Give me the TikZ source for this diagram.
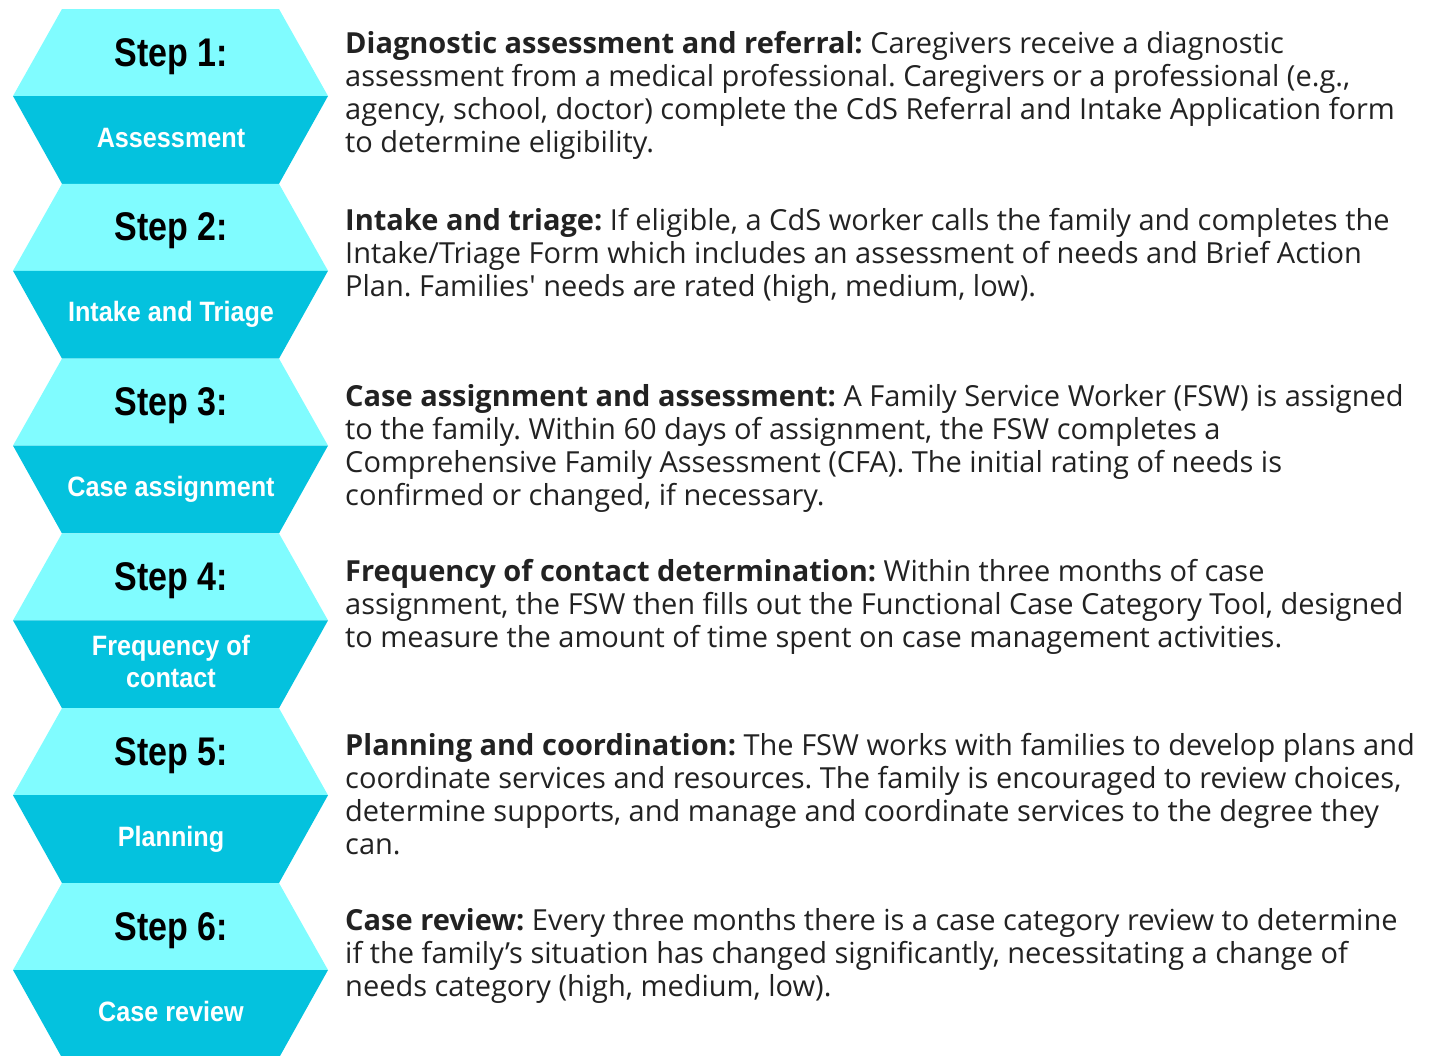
\documentclass[tikz,border=0pt]{standalone}
\usepackage{fontspec}
\setmainfont{Open Sans}[Ligatures=TeXOff]
\newfontfamily\stepfont[FakeStretch=0.85]{Liberation Sans}
\newfontfamily\namefont[FakeStretch=0.9]{Liberation Sans}
\definecolor{steplight}{HTML}{80FCFF}
\definecolor{stepdark}{HTML}{04C2DE}
\definecolor{bodytext}{HTML}{222222}
\frenchspacing
\begin{document}
\begin{tikzpicture}[x=1pt, y=-1pt, line join=round,
  steptitle/.style={font=\stepfont\bfseries\fontsize{40}{40}\selectfont, text=black, anchor=base, inner sep=0pt},
  stepname/.style={font=\namefont\bfseries\fontsize{28}{32}\selectfont, text=white, align=center, anchor=base, inner sep=0pt},
  desc/.style={font=\fontsize{29}{33}\selectfont, text=bodytext, align=left, anchor=base west, inner sep=0pt}]
\useasboundingbox (0,0) rectangle (1432,1055);
% the six steps, light half on top and dark half below
\foreach \i/\name/\off in {1/Assessment/138, 2/Intake and Triage/138, 3/Case assignment/138,
  4/{Frequency of\\contact}/153.6, 5/Planning/138, 6/Case review/138}{
  \pgfmathsetmacro\t{9+174.8*(\i-1)}
  \fill[steplight] (62,\t) -- (279,\t) -- (328,\t+87) -- (13,\t+87) -- cycle;
  \fill[stepdark] (13,\t+87) -- (328,\t+87) -- (279,\t+174.8) -- (62,\t+174.8) -- cycle;
  \node[steptitle] (s\i) at (171,\t+57) {Step \i:};
  \node[stepname] (n\i) at (171,\t+\off) {\name};
}
% descriptions, placed at the baseline of their last line
\node[desc] (d1) at (345,152) {\textbf{Diagnostic assessment and referral:} Caregivers receive a diagnostic\\
  assessment from a medical professional. Caregivers or a professional (e.g.,\\
  agency, school, doctor) complete the CdS Referral and Intake Application form\\
  to determine eligibility.};
\node[desc] (d2) at (345,296) {\textbf{Intake and triage:} If eligible, a CdS worker calls the family and completes the\\
  Intake/Triage Form which includes an assessment of needs and Brief Action\\
  Plan. Families' needs are rated (high, medium, low).};
\node[desc] (d3) at (345,505) {\textbf{Case assignment and assessment:} A Family Service Worker (FSW) is assigned\\
  to the family. Within 60 days of assignment, the FSW completes a\\
  Comprehensive Family Assessment (CFA). The initial rating of needs is\\
  confirmed or changed, if necessary.};
\node[desc] (d4) at (345,647) {\textbf{Frequency of contact determination:} Within three months of case\\
  assignment, the FSW then fills out the Functional Case Category Tool, designed\\
  to measure the amount of time spent on case management activities.};
\node[desc] (d5) at (345,854) {\textbf{Planning and coordination:} The FSW works with families to develop plans and\\
  coordinate services and resources. The family is encouraged to review choices,\\
  determine supports, and manage and coordinate services to the degree they\\
  can.};
\node[desc] (d6) at (345,996) {\textbf{Case review:} Every three months there is a case category review to determine\\
  if the family’s situation has changed significantly, necessitating a change of\\
  needs category (high, medium, low).};
\end{tikzpicture}
\end{document}
